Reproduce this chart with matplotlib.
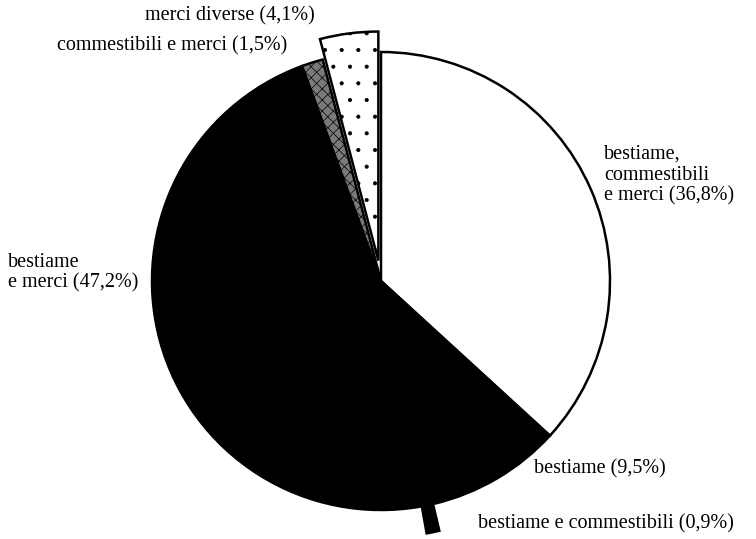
import matplotlib.pyplot as plt

# composizione dei carichi (percentuali)
labels = ["bestiame,\ncommestibili\ne merci (36,8%)",
          "bestiame (9,5%)",
          "bestiame e commestibili (0,9%)",
          "bestiame\ne merci (47,2%)",
          "commestibili e merci (1,5%)",
          "merci diverse (4,1%)"]
quote = [36.8, 9.5, 0.9, 47.2, 1.5, 4.1]
esploso = [0, 0, 0.12, 0, 0, 0.09]
colori = ["white", "black", "black", "black", "#7a7a7a", "white"]

# posizione delle etichette (x sinistra, y del bordo superiore in pixel)
pos_etichette = [(604, 145), (534, 459), (478, 514), (8, 253), (57, 36), (145, 6)]

plt.rcParams['font.family'] = ['Liberation Serif', 'DejaVu Serif']
plt.rcParams['hatch.linewidth'] = 0.5

fig = plt.figure(figsize=(7.56, 5.39), dpi=100)
ax = fig.add_axes([0, 0, 1, 1])

H = 539
R = 229
# in pie() lo spostamento non è scalato sul raggio
spicchi, _ = ax.pie(quote, explode=[e * R for e in esploso], colors=colori,
                    startangle=90, counterclock=False,
                    center=(381, H - 281), radius=R,
                    wedgeprops=dict(edgecolor='black', linewidth=1.8))
spicchi[5].set_hatch('.')
spicchi[4].set_hatch('xxx')

# la torta usa coordinate in pixel
ax.set_xlim(0, 756)
ax.set_ylim(0, H)
ax.set_aspect('equal')
ax.axis('off')

for testo, (x, y) in zip(labels, pos_etichette):
    ax.text(x, H - y, testo, fontsize=14.5, ha='left', va='top',
            linespacing=1.12)

fig.savefig("out.png", dpi=100)
